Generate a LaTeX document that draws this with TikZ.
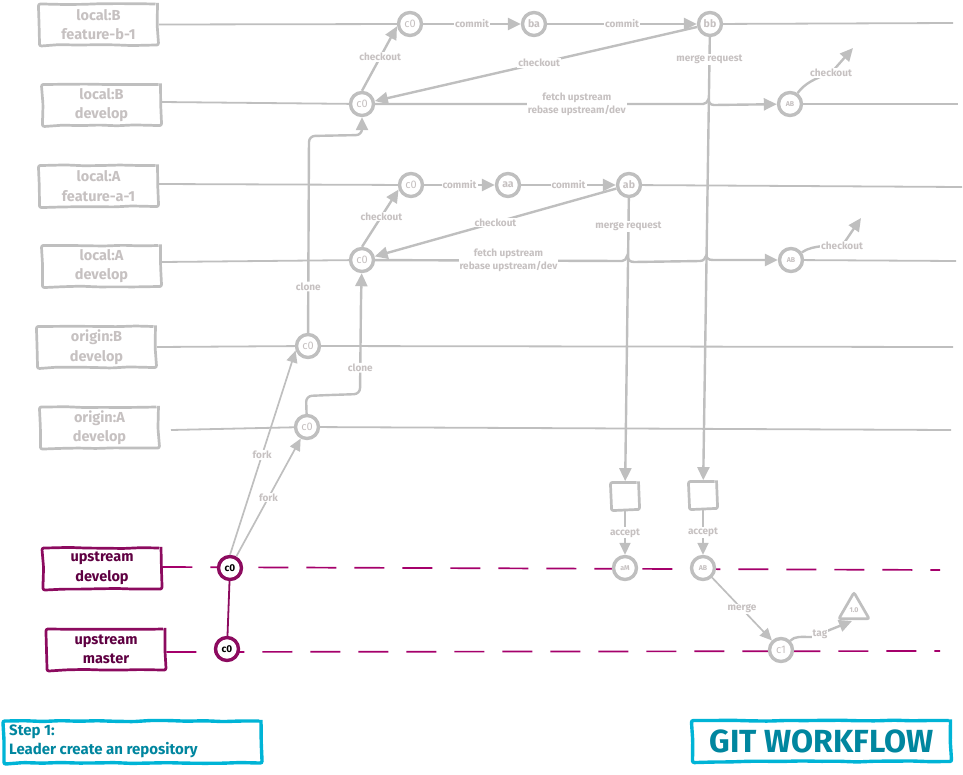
\documentclass[tikz,border=0pt]{standalone}
\usepackage{fontspec}
\setmainfont{Fira Sans}
\usetikzlibrary{arrows.meta,decorations.pathmorphing,shapes.geometric,backgrounds}
\definecolor{gline}{HTML}{BFBFBF}
\definecolor{gtext}{HTML}{C6C1C1}
\definecolor{plum}{HTML}{8C0B5F}
\definecolor{plumtext}{HTML}{5F0042}
\definecolor{dashplum}{HTML}{A5006B}
\definecolor{cyanb}{HTML}{00B4D6}
\definecolor{teal2}{HTML}{00869F}
\tikzset{
  rough/.style={decorate,decoration={random steps,segment length=18pt,amplitude=0.6pt},rounded corners=2pt},
  box/.style={rough,draw=gline,line width=2.7pt,fill=white,minimum width=118pt,minimum height=41pt,inner sep=0pt,align=center,
    text=gtext,font=\fontsize{14.5}{19.5}\selectfont\bfseries},
  ubox/.style={box,draw=plum,text=plumtext},
  commit/.style={circle,draw=gline,line width=3.4pt,fill=white,minimum size=23pt,inner sep=0pt,text=gtext,font=\fontsize{11}{11}\selectfont},
  bcommit/.style={commit,font=\fontsize{10.5}{10}\selectfont\bfseries},
  tinycommit/.style={commit,font=\fontsize{7}{7}\selectfont\bfseries},
  ucommit/.style={commit,draw=plum,text=black,font=\fontsize{10}{10}\selectfont\bfseries},
  branch/.style={draw=gline,line width=1.8pt},
  flow/.style={draw=gline,line width=2.4pt,-{Triangle[length=13pt,width=12pt]}},
  thinflow/.style={draw=gline,line width=1.7pt,-{Triangle[length=12pt,width=11pt]}},
  lab/.style={fill=white,inner sep=1pt,text=gtext,font=\fontsize{10}{13}\selectfont\bfseries,align=center},
  updash/.style={draw=dashplum,line width=1.7pt,dash pattern=on 30pt off 18pt},
  square/.style={rough,draw=gline,line width=2.7pt,fill=white,minimum size=27pt,inner sep=0pt},
  tagmark/.style={regular polygon,regular polygon sides=3,draw=gline,line width=2.7pt,rounded corners=2pt,fill=white,minimum size=35pt,inner sep=0pt,text=gtext,font=\fontsize{7}{7}\selectfont\bfseries},
  stepbox/.style={rough,draw=cyanb,line width=3.4pt,fill=white,inner sep=0pt},
}
\begin{document}
\begin{tikzpicture}[x=1pt,y=-1pt]
\useasboundingbox (0,0) rectangle (963,774);
\pgfmathsetseed{20230}
% branch labels
\node[box] (lbf) at (98.5,24.5) {local:B\\feature-b-1};
\node[box] (lbd) at (101.5,105) {local:B\\develop};
\node[box] (laf) at (98.5,186) {local:A\\feature-a-1};
\node[box] (lad) at (101.5,266) {local:A\\develop};
\node[box] (obd) at (96.5,347) {origin:B\\develop};
\node[box] (oad) at (99.5,427.5) {origin:A\\develop};
\node[ubox] (ud) at (102,568.5) {upstream\\develop};
\node[ubox] (um) at (106,649.5) {upstream\\master};
% commits
\node[commit] (b0) at (410,24) {c0};
\node[bcommit] (ba) at (534,24) {ba};
\node[bcommit] (bb) at (710,24) {bb};
\node[commit] (bd0) at (362,104) {c0};
\node[tinycommit] (bab) at (790,104) {AB};
\node[commit] (a0) at (411,185) {c0};
\node[bcommit] (aa) at (508,185) {aa};
\node[bcommit] (ab) at (629,185) {ab};
\node[commit] (ad0) at (362,260) {c0};
\node[tinycommit] (aab) at (791,260) {AB};
\node[commit] (ob) at (308,346) {c0};
\node[commit] (oa) at (307,427) {c0};
\node[ucommit] (u0) at (230,568) {c0};
\node[ucommit] (m0) at (227,649) {c0};
\node[tinycommit] (uam) at (625,568) {aM};
\node[tinycommit] (uab) at (703,568) {AB};
\node[commit] (c1) at (781,650) {c1};
\node[square] (sa) at (625,496) {};
\node[square] (sb) at (703,495) {};
\node[tagmark] (tg) at (854,610) {1.0};
% free ends
\coordinate (ebf) at (953,23);
\coordinate (ebd) at (958,104);
\coordinate (eaf) at (962,187);
\coordinate (ead) at (956,261);
\coordinate (eob) at (953,347);
\coordinate (eoa) at (951,430);
\coordinate (soa) at (171,430);
\coordinate (eud) at (940,570);
\coordinate (eum) at (940,651);
\coordinate (chb) at (853,48);
\coordinate (cha) at (861,218);
% branch lines
\draw[branch] (lbf.east) -- (b0);
\draw[branch] (bb) -- (ebf);
\draw[branch] ([yshift=3pt]lbd.east) -- (bd0);
\draw[branch] (bab) -- (ebd);
\draw[branch] ([yshift=2pt]laf.east) -- (a0);
\draw[branch] (ab) -- (eaf);
\draw[branch] ([yshift=4pt]lad.east) -- (ad0);
\draw[branch] (aab) -- (ead);
\draw[branch] (obd.east) -- (ob);
\draw[branch] (ob) -- (eob);
\draw[branch] (soa) -- (oa);
\draw[branch] (oa) -- (eoa);
\begin{pgfonlayer}{background}
\draw[updash] ([yshift=1.5pt]ud.east) -- (eud);
\draw[updash] ([yshift=-2.5pt]um.east) -- (eum);
\end{pgfonlayer}
\draw[plum,line width=1.8pt] (u0) -- (m0);
% commits and checkouts
\draw[flow] (b0) -- node[lab] {commit} (ba);
\draw[flow] (ba) -- node[lab] {commit} (bb);
\draw[flow] (a0) -- node[lab] {commit} (aa);
\draw[flow] (aa) -- node[lab] {commit} (ab);
\draw[flow] (bd0.north) -- node[lab,pos=0.52] {checkout} (b0.190);
\draw[flow] (ad0.north) -- node[lab,pos=0.53] {checkout} (a0.200);
\draw[flow] (bb) -- node[lab,pos=0.49] {checkout} (bd0);
\draw[flow] (ab) -- node[lab,pos=0.5] {checkout} (ad0);
% vertical merge requests
\draw[flow] (bb) -- node[lab,pos=0.05] {merge request} (sb);
\draw[flow] (ab) -- node[lab,pos=0.1] {merge request} (sa);
% fetch lines with bumps over the merge request lines
\draw[flow] (bd0) -- node[lab,pos=0.615] {fetch upstream\\rebase upstream/dev} (703,104)
  .. controls (706,104) and (707,102) .. (708,100)
  .. controls (709,102) and (710,105) .. (714,105) -- (bab);
\draw[flow] (ad0) -- node[lab,pos=0.54] {fetch upstream\\rebase upstream/dev} (622,261)
  .. controls (625,261) and (626,259) .. (627,256)
  .. controls (628,259) and (629,262) .. (634,262)
  -- (700,261) .. controls (704,261) and (705,258) .. (706,256)
  .. controls (707,258) and (708,260) .. (713,260) -- (aab);
% checkouts from AB
\draw[flow] (bab) .. controls (804,84) and (815,78) .. node[lab,pos=1] {checkout} (831,73) -- (chb);
\draw[flow] (aab) .. controls (808,248) and (815,247) .. (823,246) -- node[lab,pos=1] {checkout} (842,246) -- (cha);
% clones
\draw[flow,rounded corners=6pt] (ob) -- node[lab,pos=0.235] {clone} (309,136) -- (362,135) -- (bd0);
\draw[flow,rounded corners=6pt] (oa) -- (306,396) -- (330,395) -- (360,394) -- node[lab,pos=0.28] {clone} (361,300) -- (ad0);
% forks
\draw[thinflow] (u0.north) -- node[lab,pos=0.49] {fork} (ob.200);
\draw[thinflow] (u0) -- node[lab,pos=0.5] {fork} (oa);
% upstream actions
\draw[thinflow] (sa) -- node[lab] {accept} (uam);
\draw[thinflow] (sb) -- node[lab] {accept} (uab);
\draw[thinflow] (uab) -- node[lab,pos=0.5] {merge} (c1);
\draw[flow] (c1) .. controls (795,636) and (800,637) .. (812,637) -- node[lab,pos=0.2] {tag} (852,621);
% captions
\node[stepbox,minimum width=257pt,minimum height=42pt,anchor=center] (stp) at (132.5,742) {};
\node[anchor=west,inner sep=0pt,align=left,text=teal2,font=\fontsize{15}{19}\selectfont\bfseries] (stpt) at (9,741) {Step 1:\\Leader create an repository};
\node[stepbox,minimum width=258pt,minimum height=41pt,text=teal2,font=\fontsize{32}{32}\selectfont\bfseries] (gw) at (821.5,741) {GIT WORKFLOW};
\end{tikzpicture}
\end{document}
